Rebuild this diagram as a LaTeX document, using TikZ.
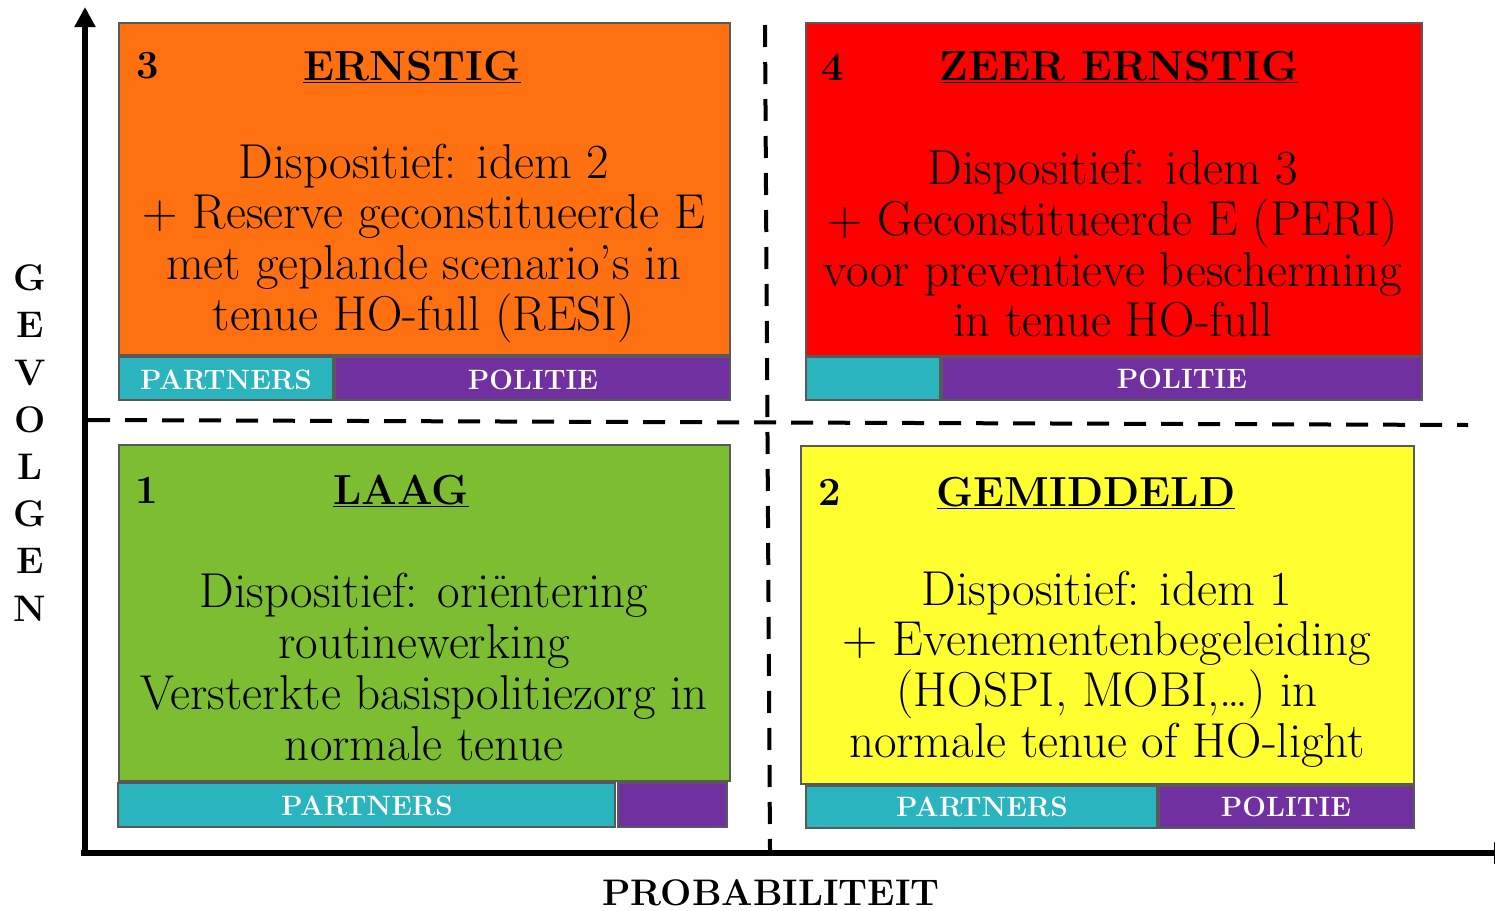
\documentclass[tikz,border=0pt]{standalone}
\usetikzlibrary{arrows.meta}
\definecolor{cOrange}{HTML}{FF7011}
\definecolor{cRed}{HTML}{FF0000}
\definecolor{cGreen}{HTML}{7CBD32}
\definecolor{cYellow}{HTML}{FFFF2F}
\definecolor{cTeal}{HTML}{2AB4BD}
\definecolor{cPurple}{HTML}{7030A0}
\definecolor{cBorder}{HTML}{595959}
\tikzset{
  panel/.style={draw=cBorder, line width=2.5pt, inner sep=0pt, outer sep=0pt},
  bodytext/.style={align=center, inner sep=0pt, font=\fontsize{49}{50.7}\selectfont},
  titletext/.style={inner sep=0pt, font=\fontsize{42}{44}\selectfont\bfseries},
  numtext/.style={inner sep=0pt, font=\fontsize{40}{44}\selectfont\bfseries},
  bartext/.style={inner sep=0pt, text=white, font=\fontsize{28}{30}\selectfont\bfseries},
  axislabel/.style={inner sep=0pt, font=\fontsize{37}{40}\selectfont\bfseries},
  axisline/.style={line width=6.5pt},
  divider/.style={line width=4pt, dash pattern=on 22pt off 15pt},
}
\newcommand{\panelbox}[6]{% name, x1, y1, x2, y2, colour
  \node[panel, fill=#6, minimum width={#4-#2}, minimum height={#5-#3}] (#1) at ({(#2+#4)/2},{(#3+#5)/2}) {};}
\begin{document}
\begin{tikzpicture}[x=1pt, y=-1pt]
\useasboundingbox (0,0) rectangle (1495,910);
% dividers
\coordinate (vtop) at (765,25);
\coordinate (vbot) at (770,850);
\coordinate (hleft) at (88,420);
\coordinate (hright) at (1468,425);
\draw[divider] (vtop) -- (vbot);
\draw[divider] (hleft) -- (hright);
% axes
\coordinate (origin) at (85,853);
\coordinate (ytip) at (85,7);
\coordinate (xstart) at (81,853);
\coordinate (xtip) at (1516,853);
\draw[axisline, -{Triangle[width=20pt,length=20pt]}] (origin) -- (ytip);
\draw[axisline, -{Triangle[width=20pt,length=22pt]}] (xstart) -- (xtip);
% panels
\panelbox{b3}{119}{23}{730}{355}{cOrange}
\panelbox{b3p}{119}{357}{333}{400}{cTeal}
\panelbox{b3q}{335}{357}{730}{400}{cPurple}
\panelbox{b4}{806}{23}{1422}{356}{cRed}
\panelbox{b4p}{806}{357}{940}{400}{cTeal}
\panelbox{b4q}{942}{357}{1422}{400}{cPurple}
\panelbox{b1}{119}{445}{730}{781}{cGreen}
\panelbox{b1p}{118}{783}{615}{827}{cTeal}
\panelbox{b1q}{618}{783}{727}{827}{cPurple}
\panelbox{b2}{801}{446}{1414}{784}{cYellow}
\panelbox{b2p}{806}{786}{1157}{828}{cTeal}
\panelbox{b2q}{1159}{786}{1414}{828}{cPurple}
% box 3
\node[numtext] (n3) at (148,66) {3};
\node[titletext] (t3) at (412,67) {\underline{ERNSTIG}};
\node[bodytext] (d3) at (424,243) {Dispositief: idem 2\\+ Reserve geconstitueerde E\\met geplande scenario’s in\\tenue HO-full (RESI)};
\node[bartext] (l3p) at (226,380) {PARTNERS};
\node[bartext] (l3q) at (533,380) {POLITIE};
% box 4
\node[numtext] (n4) at (833,67) {4};
\node[titletext] (t4) at (1119,67) {\underline{ZEER ERNSTIG}};
\node[bodytext] (d4) at (1113,244) {Dispositief: idem 3\\+ Geconstitueerde E (PERI)\\voor preventieve bescherming\\in tenue HO-full};
\node[bartext] (l4q) at (1182,379) {POLITIE};
% box 1
\node[numtext] (n1) at (147,490) {1};
\node[titletext] (t1) at (401,491) {\underline{LAAG}};
\node[bodytext] (d1) at (424,667) {Dispositief: oriëntering\\routinewerking\\Versterkte basispolitiezorg in\\normale tenue};
\node[bartext] (l1p) at (367,806) {PARTNERS};
% box 2
\node[numtext] (n2) at (830,492) {2};
\node[titletext] (t2) at (1086,493) {\underline{GEMIDDELD}};
\node[bodytext] (d2) at (1107,669) {Dispositief: idem 1\\+ Evenementenbegeleiding\\(HOSPI, MOBI,\dots) in\\normale tenue of HO-light};
\node[bartext] (l2p) at (982,807) {PARTNERS};
\node[bartext] (l2q) at (1286,807) {POLITIE};
% axis labels
\node[axislabel, align=center, font=\fontsize{37}{47.2}\selectfont\bfseries] (ylab) at (30,443) {G\\E\\V\\O\\L\\G\\E\\N};
\node[axislabel] (xlab) at (771,893) {PROBABILITEIT};
\end{tikzpicture}
\end{document}
